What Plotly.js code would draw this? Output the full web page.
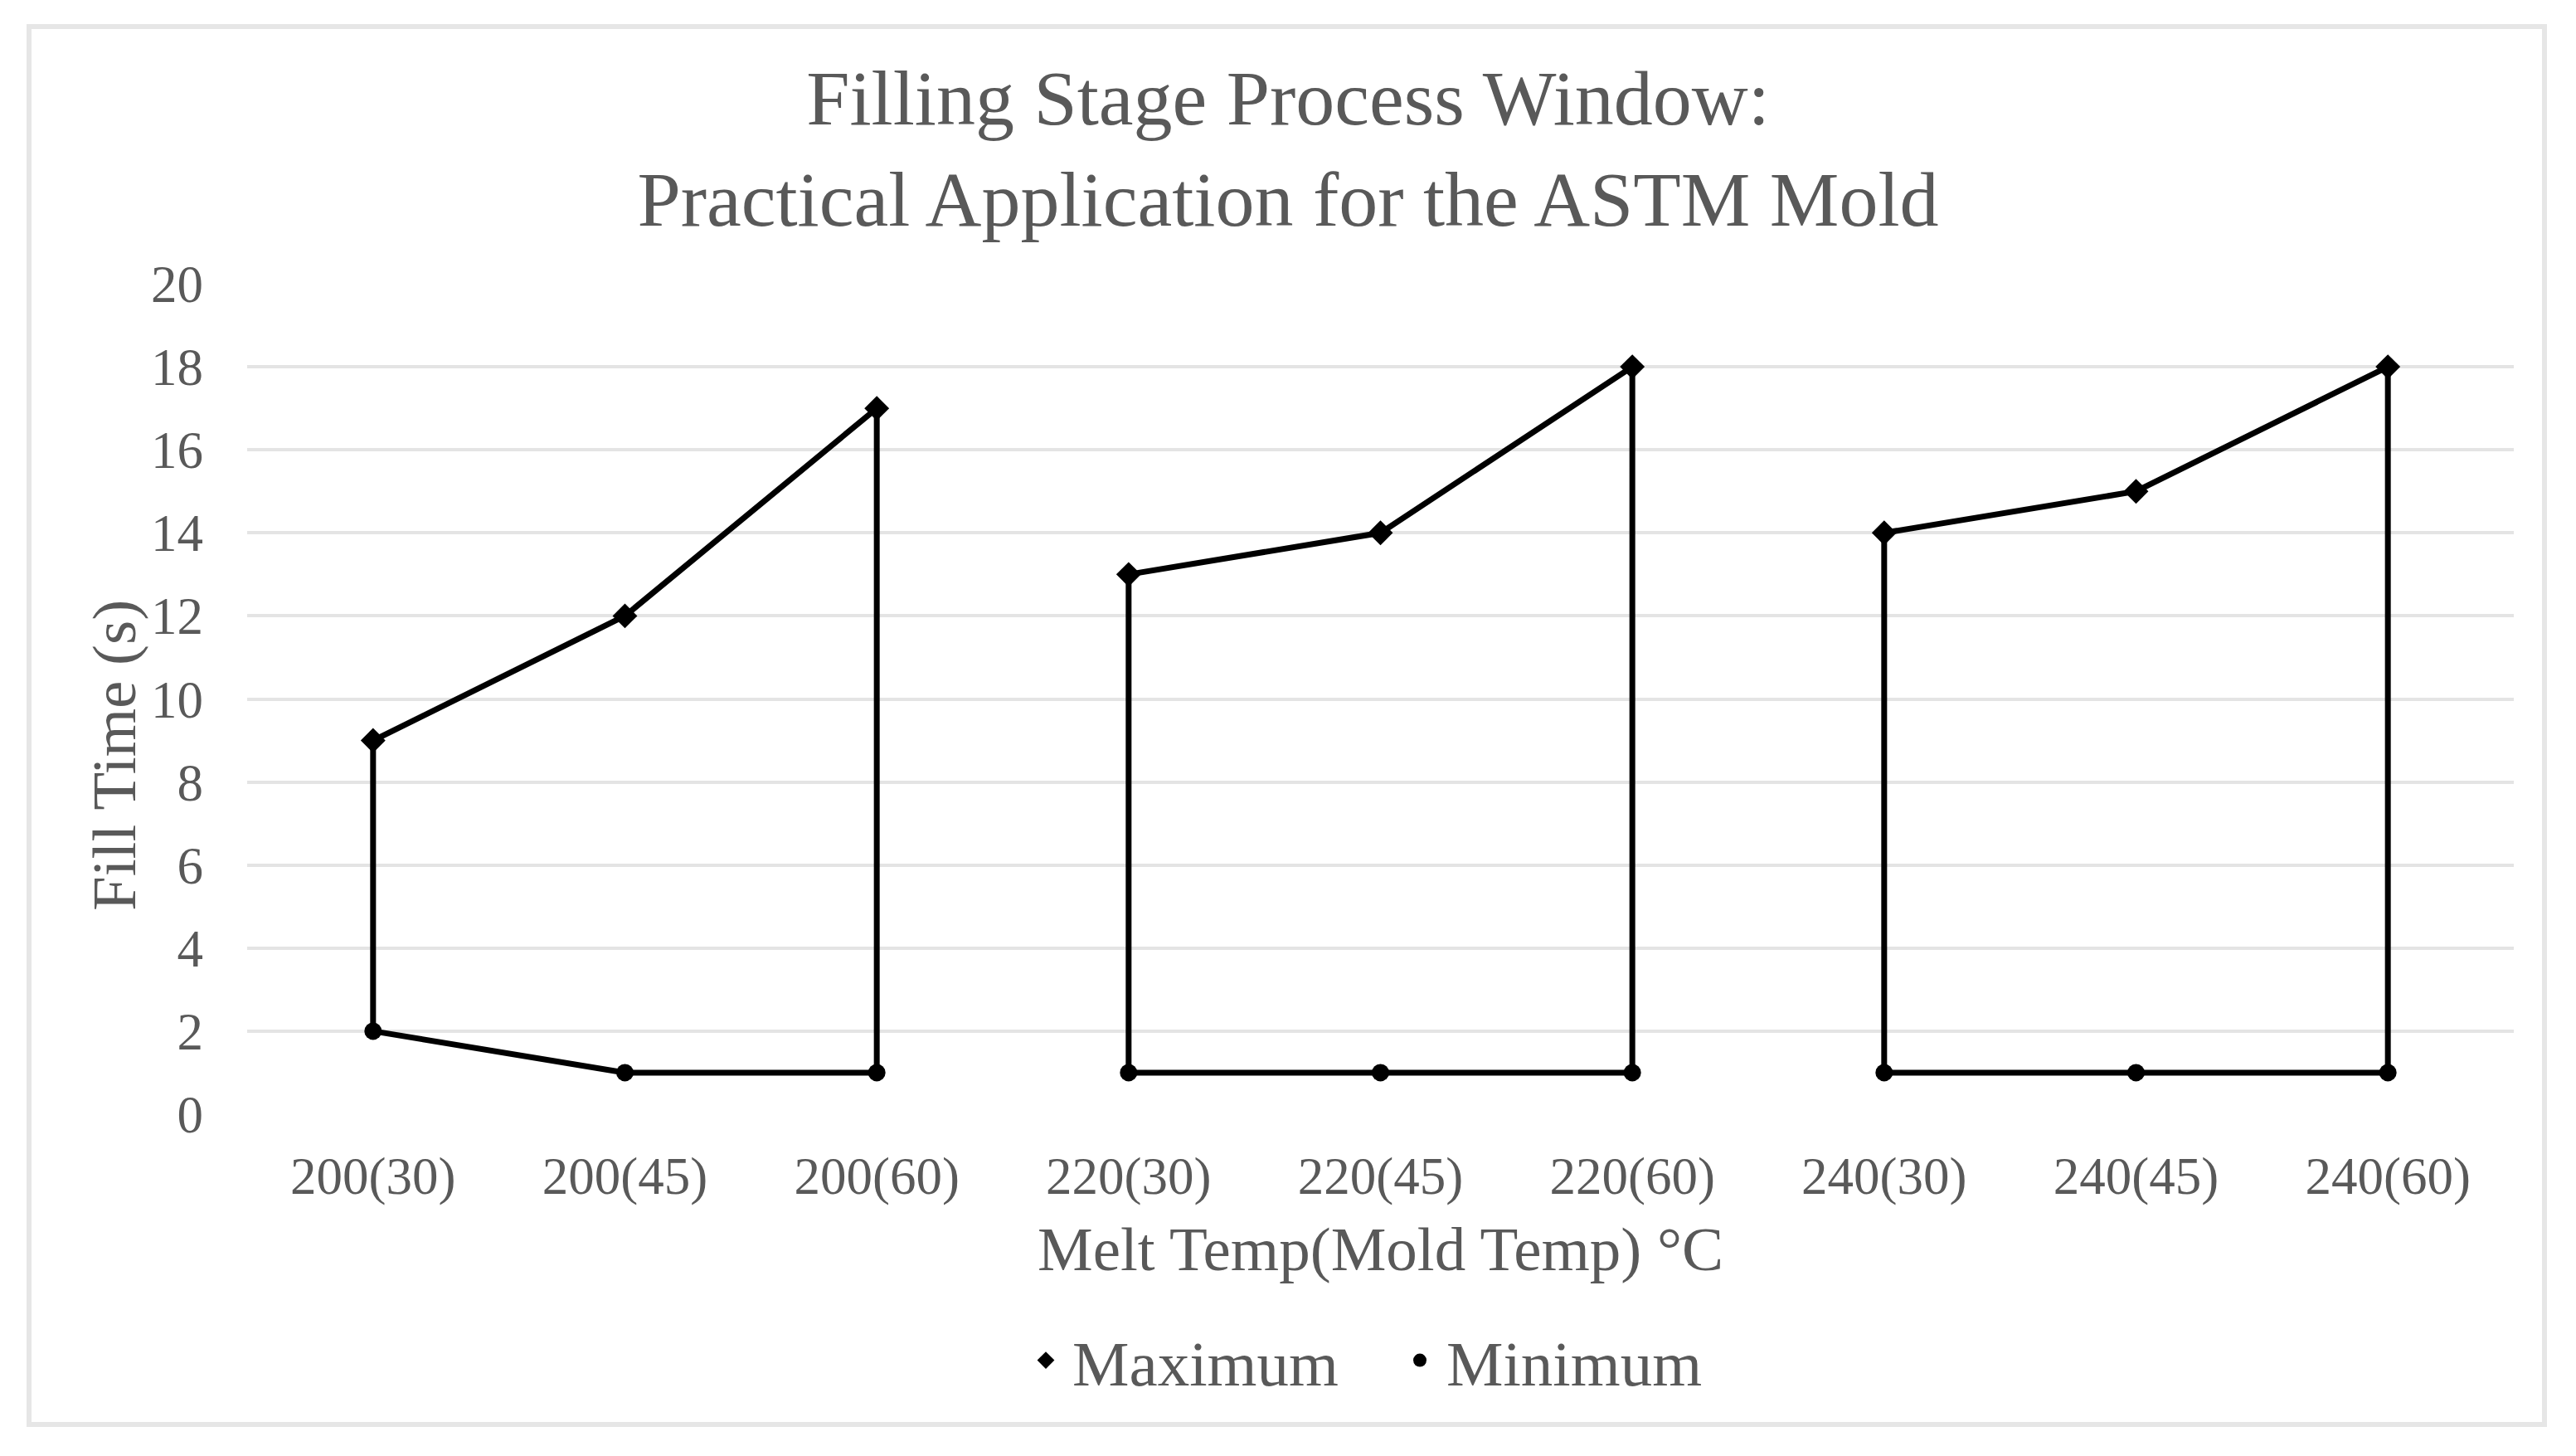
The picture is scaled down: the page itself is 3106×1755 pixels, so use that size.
<!DOCTYPE html>
<html>
<head>
<meta charset="utf-8">
<script src="https://cdn.plot.ly/plotly-3.0.1.min.js"></script>
<style>
html,body{margin:0;padding:0;background:#fff;}
#chart{width:3106px;height:1755px;}
</style>
</head>
<body>
<div id="chart"></div>
<script>
// ---- data ----
var categories = ["200(30)", "200(45)", "200(60)", "220(30)", "220(45)", "220(60)", "240(30)", "240(45)", "240(60)"];
var maximum = [9, 12, 17, 13, 14, 18, 14, 15, 18];
var minimum = [2, 1, 1, 1, 1, 1, 1, 1, 1];
var groupSize = 3;
var yTicks = [0, 2, 4, 6, 8, 10, 12, 14, 16, 18, 20];

var titleText = "Filling Stage Process Window:<br>Practical Application for the ASTM Mold";
var xTitle = "Melt Temp(Mold Temp) °C";
var yTitle = "Fill Time (s)";

// ---- styling ----
var FONT = "Liberation Serif, Times New Roman, serif";
var TXT = "#595959";
var W = 3106, H = 1755;
var M = {l: 298, r: 75, t: 342, b: 412};
var PW = W - M.l - M.r, PH = H - M.t - M.b;
function px2x(px) { return (px - M.l) / PW; }
function px2y(py) { return (H - M.b - py) / PH; }

var traces = [];
// outline polygons for each melt-temperature group (max line, right edge, min line, left edge)
for (var g = 0; g < categories.length / groupSize; g++) {
  var idx = [];
  for (var k = 0; k < groupSize; k++) idx.push(g * groupSize + k);
  var rev = idx.slice().reverse();
  var xs = idx.map(function (i) { return categories[i]; })
    .concat(rev.map(function (i) { return categories[i]; }))
    .concat([categories[idx[0]]]);
  var ys = idx.map(function (i) { return maximum[i]; })
    .concat(rev.map(function (i) { return minimum[i]; }))
    .concat([maximum[idx[0]]]);
  traces.push({
    x: xs, y: ys, type: "scatter", mode: "lines",
    line: {color: "#000000", width: 7},
    showlegend: false, hoverinfo: "skip"
  });
}
traces.push({
  x: categories, y: maximum, type: "scatter", mode: "markers", name: "Maximum",
  marker: {symbol: "diamond", size: 23, color: "#000000"}
});
traces.push({
  x: categories, y: minimum, type: "scatter", mode: "markers", name: "Minimum",
  marker: {symbol: "circle", size: 21, color: "#000000"}
});

var layout = {
  width: W, height: H,
  margin: M,
  paper_bgcolor: "#ffffff",
  plot_bgcolor: "#ffffff",
  font: {family: FONT, color: TXT, size: 63},
  title: {
    text: titleText,
    font: {family: FONT, color: TXT, size: 94},
    x: 0.5, xanchor: "center", xref: "container",
    y: 1 - 150 / H, yanchor: "top", yref: "container"
  },
  xaxis: {
    type: "category",
    categoryorder: "array", categoryarray: categories,
    range: [-0.5, categories.length - 0.5],
    showgrid: false, zeroline: false, showline: false,
    ticks: "", tickfont: {family: FONT, color: TXT, size: 63},
    ticklabelstandoff: 32,
    title: {text: xTitle, font: {family: FONT, color: TXT, size: 75}, standoff: 26}
  },
  yaxis: {
    range: [0, 20],
    tickvals: yTicks,
    showgrid: true, gridcolor: "#e4e4e4", gridwidth: 4,
    zeroline: false, showline: false, ticks: "",
    tickfont: {family: FONT, color: TXT, size: 63},
    ticklabelstandoff: 52
  },
  showlegend: true,
  legend: {
    orientation: "h",
    x: px2x(1680), xanchor: "center",
    y: 1 - 1640 / H, yanchor: "middle", yref: "container",
    font: {family: FONT, color: TXT, size: 77},
    itemwidth: 54,
    entrywidth: 382, entrywidthmode: "pixels",
    bgcolor: "rgba(0,0,0,0)"
  },
  annotations: [{
    text: yTitle, textangle: -90,
    xref: "paper", yref: "paper",
    x: px2x(137), y: px2y(911),
    xanchor: "center", yanchor: "middle",
    showarrow: false,
    font: {family: FONT, color: TXT, size: 75}
  }],
  shapes: [{
    type: "rect", xref: "paper", yref: "paper", layer: "below",
    x0: px2x(35), x1: px2x(3068), y0: px2y(1717), y1: px2y(32),
    line: {color: "#e6e6e6", width: 6},
    fillcolor: "rgba(0,0,0,0)"
  }]
};

Plotly.newPlot("chart", traces, layout, {displayModeBar: false, staticPlot: true});
</script>
</body>
</html>
